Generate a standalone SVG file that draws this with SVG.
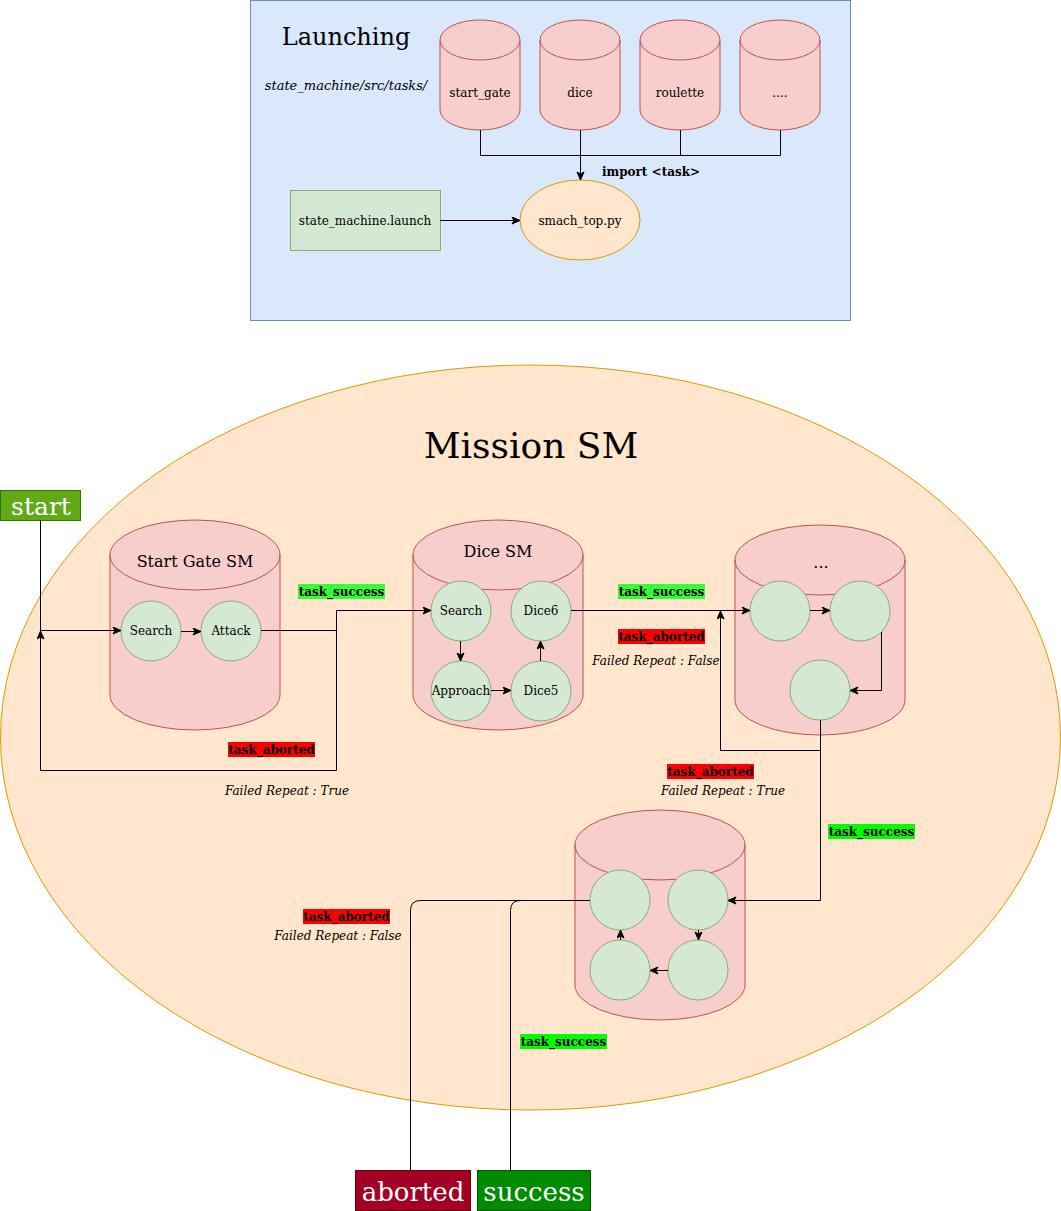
<svg xmlns="http://www.w3.org/2000/svg" width="1061" height="1211" viewBox="0 0 1061 1211">
<style>
text{font-family:"DejaVu Serif","Liberation Serif",serif;fill:#000}
.c{text-anchor:middle}
.s12{font-size:12px}
.b{font-weight:bold}
.i{font-style:italic}
.cyl{fill:#f8cecc;stroke:#b85450;stroke-width:1}
.cap{fill:none;stroke:#b85450;stroke-width:1}
.st{fill:#d5e8d4;stroke:#82b366;stroke-width:1}
.e{fill:none;stroke:#000;stroke-width:1}
</style>
<defs>
<marker id="a" markerUnits="userSpaceOnUse" markerWidth="10" markerHeight="10" refX="9" refY="4" orient="auto">
<path d="M1,0.5 L9,4 L1,7.5 L3,4 Z" fill="#000" stroke="#000" stroke-width="1"/>
</marker>
</defs>
<rect width="1061" height="1211" fill="#fff"/>
<g id="launching">
<rect x="250.5" y="0.5" width="600" height="320" fill="#dae8fc" stroke="#6c8ebf"/>
<text x="346" y="45" class="c" font-size="24">Launching</text>
<text x="346" y="90" class="c i" font-size="13">state_machine/src/tasks/</text>
</g>
<g id="cyl-start_gate">
<path class="cyl" d="M440,40 a40,20 0 0 1 80,0 v70 a40,20 0 0 1 -80,0 Z"/>
<path class="cap" d="M440,40 a40,20 0 0 0 80,0"/>
<text x="480" y="97" class="c s12">start_gate</text>
</g>
<g id="cyl-dice">
<path class="cyl" d="M540,40 a40,20 0 0 1 80,0 v70 a40,20 0 0 1 -80,0 Z"/>
<path class="cap" d="M540,40 a40,20 0 0 0 80,0"/>
<text x="580" y="97" class="c s12">dice</text>
</g>
<g id="cyl-roulette">
<path class="cyl" d="M640,40 a40,20 0 0 1 80,0 v70 a40,20 0 0 1 -80,0 Z"/>
<path class="cap" d="M640,40 a40,20 0 0 0 80,0"/>
<text x="680" y="97" class="c s12">roulette</text>
</g>
<g id="cyl-more">
<path class="cyl" d="M740,40 a40,20 0 0 1 80,0 v70 a40,20 0 0 1 -80,0 Z"/>
<path class="cap" d="M740,40 a40,20 0 0 0 80,0"/>
<text x="780" y="97" class="c s12">....</text>
</g>
<g id="smach_top">
<ellipse cx="580" cy="220" rx="60" ry="40" fill="#ffe6cc" stroke="#d79b00"/>
<text x="580" y="225" class="c s12">smach_top.py</text>
</g>
<g id="launch_file">
<rect x="290.5" y="190.5" width="150" height="60" fill="#d5e8d4" stroke="#82b366"/>
<text x="365" y="225" class="c s12">state_machine.launch</text>
</g>
<g id="mission">
<ellipse cx="530.5" cy="737.5" rx="530" ry="372.5" fill="#ffe6cc" stroke="#d79b00"/>
<text x="531" y="458" class="c" font-size="36">Mission SM</text>
</g>
<g id="start">
<rect x="0.5" y="490.5" width="80" height="30" fill="#60a917" stroke="#2d7600"/>
<text x="41" y="515" class="c" font-size="25" style="fill:#fff">start</text>
</g>
<g id="startgate-sm">
<path class="cyl" d="M110,555 a85,35 0 0 1 170,0 v140 a85,35 0 0 1 -170,0 Z"/>
<path class="cap" d="M110,555 a85,35 0 0 0 170,0"/>
<text x="195" y="567" class="c" font-size="16">Start Gate SM</text>
</g>
<g id="sg-search"><circle class="st" cx="151" cy="631" r="30"/><text x="151" y="635" class="c s12">Search</text></g>
<g id="sg-attack"><circle class="st" cx="231" cy="631" r="30"/><text x="231" y="635" class="c s12">Attack</text></g>
<g id="dice-sm">
<path class="cyl" d="M413,555 a85,35 0 0 1 170,0 v140 a85,35 0 0 1 -170,0 Z"/>
<path class="cap" d="M413,555 a85,35 0 0 0 170,0"/>
<text x="498" y="557" class="c" font-size="16">Dice SM</text>
</g>
<g id="d-search"><circle class="st" cx="461" cy="611" r="30"/><text x="461" y="615" class="c s12">Search</text></g>
<g id="d-dice6"><circle class="st" cx="541" cy="611" r="30"/><text x="541" y="615" class="c s12">Dice6</text></g>
<g id="d-approach"><circle class="st" cx="461" cy="691" r="30"/><text x="461" y="695" class="c s12">Approach</text></g>
<g id="d-dice5"><circle class="st" cx="541" cy="691" r="30"/><text x="541" y="695" class="c s12">Dice5</text></g>
<g id="more-sm">
<path class="cyl" d="M735,560 a85,35 0 0 1 170,0 v140 a85,35 0 0 1 -170,0 Z"/>
<path class="cap" d="M735,560 a85,35 0 0 0 170,0"/>
<text x="821" y="568" class="c" font-size="16">...</text>
</g>
<g id="m-s1"><circle class="st" cx="780" cy="611" r="30"/></g>
<g id="m-s2"><circle class="st" cx="860" cy="611" r="30"/></g>
<g id="m-s3"><circle class="st" cx="820" cy="690" r="30"/></g>
<g id="last-sm">
<path class="cyl" d="M575,845 a85,35 0 0 1 170,0 v140 a85,35 0 0 1 -170,0 Z"/>
<path class="cap" d="M575,845 a85,35 0 0 0 170,0"/>
</g>
<g id="l-s1"><circle class="st" cx="620" cy="900" r="30"/></g>
<g id="l-s2"><circle class="st" cx="698" cy="900" r="30"/></g>
<g id="l-s3"><circle class="st" cx="620" cy="970" r="30"/></g>
<g id="l-s4"><circle class="st" cx="698" cy="970" r="30"/></g>
<g id="aborted">
<rect x="355.5" y="1170.5" width="115" height="40" fill="#a20025" stroke="#6f0000"/>
<text x="413" y="1201" class="c" font-size="26" style="fill:#fff">aborted</text>
</g>
<g id="success">
<rect x="477.5" y="1170.5" width="113" height="40" fill="#008a00" stroke="#005700"/>
<text x="534" y="1201" class="c" font-size="26" style="fill:#fff">success</text>
</g>
<g id="connectors">
<path class="e" d="M480.5,130 V155.5 H780.5 V130"/>
<path class="e" d="M680.5,130 V155.5"/>
<path class="e" d="M580.5,130 V180" marker-end="url(#a)"/>
<path class="e" d="M440,220.5 H520" marker-end="url(#a)"/>
<path class="e" d="M40.5,520 V630.5 H121" marker-end="url(#a)"/>
<path class="e" d="M181,631.5 H201" marker-end="url(#a)"/>
<path class="e" d="M261,630.5 H336.5 V610.5 H431" marker-end="url(#a)"/>
<path class="e" d="M336.5,630.5 V770.5 H40.5 V631" marker-end="url(#a)"/>
<path class="e" d="M460.5,641 V661" marker-end="url(#a)"/>
<path class="e" d="M491,690.5 H511" marker-end="url(#a)"/>
<path class="e" d="M540.5,661 V641" marker-end="url(#a)"/>
<path class="e" d="M571,610.5 H750" marker-end="url(#a)"/>
<path class="e" d="M810,610.5 H830" marker-end="url(#a)"/>
<path class="e" d="M881.5,632 V690.5 H850" marker-end="url(#a)"/>
<path class="e" d="M820.5,720 V750.5 H720.5 V611" marker-end="url(#a)"/>
<path class="e" d="M820.5,750 V900.5 H728" marker-end="url(#a)"/>
<path class="e" d="M698.5,930 V940" marker-end="url(#a)"/>
<path class="e" d="M668,970.5 H650" marker-end="url(#a)"/>
<path class="e" d="M620.5,940 V930" marker-end="url(#a)"/>
<path class="e" d="M590,900.5 H420.5 Q410.5,900.5 410.5,910.5 V1170"/>
<path class="e" d="M590,900.5 H520.5 Q510.5,900.5 510.5,910.5 V1170"/>
</g>
<g id="labels">
<text x="651" y="176" class="c s12 b">import &lt;task&gt;</text>
<rect x="298" y="584" width="87" height="15" fill="#33ff33"/>
<text x="341.5" y="596" class="c s12 b">task_success</text>
<rect x="228" y="742" width="87" height="15" fill="#ff0000"/>
<text x="271.5" y="754" class="c s12 b">task_aborted</text>
<text x="287" y="795" class="c s12 i">Failed Repeat : True</text>
<rect x="618" y="584" width="87" height="15" fill="#33ff33"/>
<text x="661.5" y="596" class="c s12 b">task_success</text>
<rect x="618" y="629" width="87" height="15" fill="#ff0000"/>
<text x="661.5" y="641" class="c s12 b">task_aborted</text>
<text x="656" y="665" class="c s12 i">Failed Repeat : False</text>
<rect x="667" y="764" width="87" height="15" fill="#ff0000"/>
<text x="710.5" y="776" class="c s12 b">task_aborted</text>
<text x="723" y="795" class="c s12 i">Failed Repeat : True</text>
<rect x="828" y="824" width="87" height="15" fill="#00ff00"/>
<text x="871.5" y="836" class="c s12 b">task_success</text>
<rect x="303" y="909" width="87" height="15" fill="#ff0000"/>
<text x="346.5" y="921" class="c s12 b">task_aborted</text>
<text x="338" y="940" class="c s12 i">Failed Repeat : False</text>
<rect x="520" y="1034" width="87" height="15" fill="#00ff00"/>
<text x="563.5" y="1046" class="c s12 b">task_success</text>
</g>
</svg>
